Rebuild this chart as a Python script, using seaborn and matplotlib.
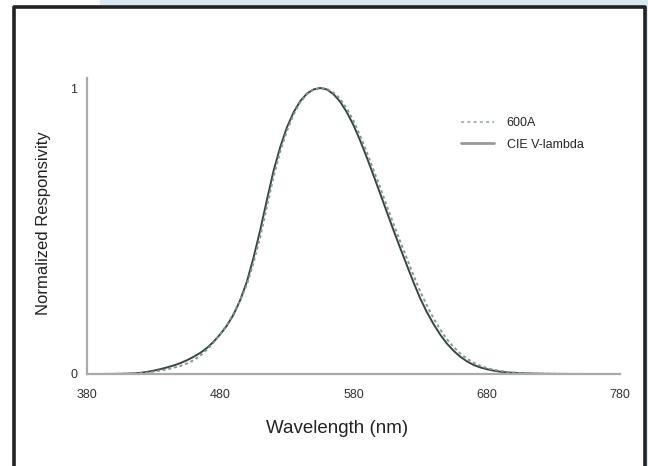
import numpy as np
import pandas as pd
import matplotlib
matplotlib.use("Agg")
import matplotlib.pyplot as plt
import seaborn as sns
from matplotlib.lines import Line2D
from matplotlib.patches import Rectangle

# wavelengths (nm), 5 nm steps
wavelength = list(range(380, 785, 5))

# CIE photopic luminosity function V(lambda)
cie_v = [0.000039, 0.000064, 0.00012, 0.000217, 0.000396, 0.00064, 0.00121,
         0.00218, 0.004, 0.0073, 0.0116, 0.01684, 0.023, 0.0298, 0.038, 0.048,
         0.06, 0.0739, 0.09098, 0.1126, 0.13902, 0.1693, 0.20802, 0.2586, 0.323,
         0.4073, 0.503, 0.6082, 0.71, 0.7932, 0.862, 0.91485, 0.954, 0.9803,
         0.99495, 1.0, 0.995, 0.9786, 0.952, 0.9154, 0.87, 0.8163, 0.757,
         0.6949, 0.631, 0.5668, 0.503, 0.4412, 0.381, 0.321, 0.265, 0.217,
         0.175, 0.1382, 0.107, 0.0816, 0.061, 0.04458, 0.032, 0.0232, 0.017,
         0.01192, 0.00821, 0.005723, 0.004102, 0.002929, 0.002091, 0.001484,
         0.001047, 0.00074, 0.00052, 0.000361, 0.000249, 0.000172, 0.00012,
         0.0000848, 0.00006, 0.0000424, 0.00003, 0.0000212, 0.000015]

# 600A detector response
resp_600a = [0.0, 0.00005, 0.0001, 0.0002, 0.0003, 0.0006, 0.001, 0.0018,
             0.003, 0.005, 0.008, 0.012, 0.016, 0.022, 0.028, 0.037, 0.048,
             0.064, 0.085, 0.11, 0.140, 0.172, 0.212, 0.258, 0.312, 0.390,
             0.480, 0.585, 0.690, 0.778, 0.850, 0.907, 0.950, 0.978, 0.995, 1.0,
             0.997, 0.984, 0.962, 0.928, 0.885, 0.833, 0.775, 0.714, 0.652,
             0.588, 0.525, 0.464, 0.405, 0.345, 0.290, 0.240, 0.195, 0.156,
             0.122, 0.095, 0.072, 0.054, 0.040, 0.029, 0.021, 0.015, 0.011,
             0.0075, 0.005, 0.0035, 0.0025, 0.0017, 0.0012, 0.0008, 0.0006,
             0.0004, 0.0003, 0.0002, 0.00015, 0.0001, 0.00007, 0.00005, 0.00003,
             0.00002, 0.00001]

df = pd.DataFrame({"wavelength": wavelength, "600A": resp_600a, "CIE V-lambda": cie_v})

sns.set_style("white")
plt.rcParams["font.family"] = ["Liberation Sans", "DejaVu Sans"]

fig = plt.figure(figsize=(6.48, 4.66), dpi=100)
ax = fig.add_axes([87 / 648, 1 - 374 / 466, (620 - 87) / 648, (374 - 78) / 466])

sns.lineplot(data=df, x="wavelength", y="CIE V-lambda", ax=ax, color="#3a453f",
             linewidth=1.4)
sns.lineplot(data=df, x="wavelength", y="600A", ax=ax, color="#7d9a8a",
             linewidth=1.4, linestyle=(0, (1.5, 1.5)))

ax.set_xlim(380, 780)
ax.set_ylim(0, 1.035)
ax.set_xticks([380, 480, 580, 680, 780])
ax.set_yticks([0, 1])
ax.set_yticklabels(["0", "1"])
ax.tick_params(axis="both", labelsize=9, colors="#333333", length=3, width=0.8,
               direction="out", color="#aaaaaa", pad=4)
ax.tick_params(axis="x", pad=8)
for s in ["top", "right"]:
    ax.spines[s].set_visible(False)
for s in ["left", "bottom"]:
    ax.spines[s].set_color("#aaaaaa")
    ax.spines[s].set_linewidth(1.6)

ax.set_xlabel("Wavelength (nm)", fontsize=13.5, color="#222222")
ax.set_ylabel("Normalized Responsivity", fontsize=12, color="#222222")
ax.xaxis.set_label_coords(0.469, -0.155)
ax.yaxis.set_label_coords(-0.068, 0.51)

handles = [Line2D([], [], color="#a8bcb2", linestyle=(0, (1.5, 1.5)), linewidth=1.5),
           Line2D([], [], color="#999999", linewidth=2)]
ax.legend(handles, ["600A", "CIE V-lambda"], loc="upper left",
          bbox_to_anchor=(0.681, 0.905), frameon=False, fontsize=9,
          handlelength=2.6, handletextpad=1.05, labelspacing=0.75)

# page frame around the figure
fig.patches.append(Rectangle((100 / 648, 1 - 5 / 466), 1, 5 / 466, transform=fig.transFigure,
                             color="#d8e8f1", zorder=0))
fig.patches.append(Rectangle((646 / 648, 0), 2 / 648, 1, transform=fig.transFigure,
                             color="#d8e8f1", zorder=0))
fig.lines.append(Line2D([14 / 648, 14 / 648, 644.5 / 648, 644.5 / 648],
                        [-0.01, 1 - 6.5 / 466, 1 - 6.5 / 466, -0.01],
                        transform=fig.transFigure, color="#222222", linewidth=2.6))

fig.savefig("out.png", dpi=100)
